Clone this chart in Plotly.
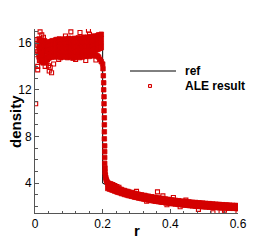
import plotly.graph_objects as go

# ---------------- data ----------------
ref_r = [0.0, 0.2, 0.2, 0.22, 0.25, 0.3, 0.35, 0.4, 0.45, 0.5, 0.55, 0.6]
ref_rho = [16.0, 16.0, 4.0, 3.727, 3.4, 3.0, 2.714, 2.5, 2.333, 2.2, 2.091, 2.0]

core_r = [0.012, 0.016, 0.020, 0.024, 0.028, 0.032, 0.036, 0.040, 0.044, 0.048,
          0.052, 0.056, 0.060, 0.064, 0.068, 0.072, 0.076, 0.080, 0.084, 0.088,
          0.092, 0.096, 0.100, 0.104, 0.108, 0.112, 0.116, 0.120, 0.124, 0.128,
          0.132, 0.136, 0.140, 0.144, 0.148, 0.152, 0.156, 0.160, 0.164, 0.168,
          0.172, 0.176, 0.180, 0.184, 0.188, 0.192, 0.196]
core_rho_1 = [16.35, 16.1, 16.25, 16.05, 16.2, 16.0, 16.1, 15.95, 16.05, 16.15,
              16.2, 16.1, 16.25, 16.3, 16.2, 16.35, 16.25, 16.3, 16.2, 16.35,
              16.3, 16.25, 16.4, 16.3, 16.35, 16.25, 16.4, 16.3, 16.35, 16.45,
              16.3, 16.4, 16.35, 16.5, 16.4, 16.45, 16.5, 16.4, 16.55, 16.5,
              16.45, 16.6, 16.55, 16.6, 16.7, 16.65, 16.75]
core_rho_2 = [15.85, 15.9, 15.7, 15.8, 15.75, 15.6, 15.7, 15.65, 15.75, 15.8,
              15.85, 15.9, 15.85, 15.95, 15.9, 16.0, 15.9, 15.95, 15.9, 16.0,
              15.95, 15.9, 16.0, 15.95, 16.05, 15.9, 16.0, 15.95, 16.05, 16.1,
              15.95, 16.05, 16.0, 16.1, 16.05, 16.1, 16.15, 16.05, 16.2, 16.15,
              16.1, 16.25, 16.2, 16.25, 16.3, 16.35, 16.4]
core_rho_3 = [15.5, 15.4, 15.3, 15.2, 15.3, 15.25, 15.35, 15.3, 15.4, 15.45,
              15.5, 15.55, 15.5, 15.6, 15.55, 15.6, 15.5, 15.6, 15.55, 15.65,
              15.6, 15.5, 15.6, 15.55, 15.65, 15.5, 15.6, 15.55, 15.65, 15.7,
              15.55, 15.65, 15.6, 15.7, 15.65, 15.7, 15.75, 15.65, 15.8, 15.75,
              15.7, 15.85, 15.8, 15.85, 15.9, 15.95, 16.0]
core_rho_4 = [15.1, 15.0, 14.9, 14.7, 14.8, 14.6, 14.8, 14.9, 15.0, 15.05,
              15.1, 15.15, 15.1, 15.2, 15.15, 15.2, 15.1, 15.2, 15.15, 15.25,
              15.2, 15.1, 15.2, 15.15, 15.25, 15.1, 15.2, 15.15, 15.25, 15.3,
              15.15, 15.25, 15.2, 15.3, 15.25, 15.3, 15.35, 15.25, 15.4, 15.35,
              15.3, 15.45, 15.4, 15.45, 15.5, 15.55, 15.6]
core_rho_5 = [14.8, 14.5, 14.4, 14.3, 14.5, 14.4, 14.6, 14.7, 14.75, 14.8,
              14.85, 14.9, 14.8, 14.95, 14.85, 14.9, 14.75, 14.85, 14.8, 14.9,
              14.85, 14.75, 14.85, 14.8, 14.9, 14.7, 14.8, 14.75, 14.85, 14.9,
              14.75, 14.85, 14.8, 14.9, 14.85, 14.9, 14.95, 14.85, 15.0, 14.95,
              14.9, 15.0, 14.95, 14.9, 14.8, 14.6, 14.4]

core_out_r = [0.002, 0.008, 0.008, 0.013, 0.015, 0.020, 0.006, 0.035, 0.040, 0.042,
              0.049, 0.037, 0.045, 0.030, 0.106, 0.133, 0.158, 0.161, 0.070, 0.120,
              0.150, 0.180, 0.090, 0.055, 0.025, 0.008, 0.008, 0.004]
core_out_rho = [10.8, 14.0, 13.7, 14.5, 16.95, 16.7, 16.3, 14.3, 14.05, 13.6,
                13.45, 14.6, 13.9, 14.0, 16.95, 16.9, 17.1, 16.75, 14.6, 14.6,
                14.5, 14.55, 16.6, 14.2, 16.5, 15.8, 15.3, 15.0]

drop_r = [0.200, 0.201, 0.202, 0.203, 0.203, 0.204, 0.204, 0.204, 0.205, 0.205,
          0.205, 0.205, 0.206, 0.206, 0.206, 0.206, 0.207, 0.207, 0.208, 0.209,
          0.210, 0.212, 0.215, 0.219, 0.224]
drop_rho = [14.2, 13.8, 13.2, 12.6, 12.0, 11.4, 10.8, 10.2, 9.6, 9.0,
            8.4, 7.8, 7.2, 6.7, 6.2, 5.7, 5.3, 4.95, 4.7, 4.5,
            4.35, 4.2, 4.05, 3.95, 3.9]

tail_r = [0.215, 0.22, 0.225, 0.23, 0.235, 0.24, 0.245, 0.25, 0.255, 0.26,
          0.265, 0.27, 0.275, 0.28, 0.285, 0.29, 0.295, 0.30, 0.305, 0.31,
          0.315, 0.32, 0.325, 0.33, 0.335, 0.34, 0.345, 0.35, 0.355, 0.36,
          0.365, 0.37, 0.375, 0.38, 0.385, 0.39, 0.395, 0.40, 0.405, 0.41,
          0.415, 0.42, 0.425, 0.43, 0.435, 0.44, 0.445, 0.45, 0.455, 0.46,
          0.465, 0.47, 0.475, 0.48, 0.485, 0.49, 0.495, 0.50, 0.505, 0.51,
          0.515, 0.52, 0.525, 0.53, 0.535, 0.54, 0.545, 0.55, 0.555, 0.56,
          0.565, 0.57, 0.575, 0.58, 0.585, 0.59, 0.595, 0.60]
tail_rho_hi = [3.92, 3.80, 3.78, 3.70, 3.66, 3.58, 3.55, 3.49, 3.47, 3.39,
               3.37, 3.30, 3.29, 3.22, 3.21, 3.14, 3.13, 3.08, 3.06, 3.01,
               3.00, 2.94, 2.95, 2.88, 2.89, 2.83, 2.84, 2.78, 2.79, 2.73,
               2.74, 2.68, 2.70, 2.64, 2.65, 2.60, 2.61, 2.56, 2.57, 2.52,
               2.53, 2.49, 2.50, 2.45, 2.46, 2.42, 2.43, 2.39, 2.40, 2.36,
               2.37, 2.33, 2.35, 2.31, 2.32, 2.28, 2.30, 2.26, 2.27, 2.23,
               2.25, 2.21, 2.22, 2.19, 2.20, 2.17, 2.18, 2.15, 2.16, 2.13,
               2.14, 2.11, 2.12, 2.09, 2.10, 2.08, 2.09, 2.06]
tail_rho_lo = [3.55, 3.50, 3.44, 3.40, 3.33, 3.28, 3.22, 3.19, 3.12, 3.10,
               3.03, 3.01, 2.95, 2.93, 2.88, 2.86, 2.80, 2.79, 2.74, 2.72,
               2.68, 2.66, 2.62, 2.61, 2.56, 2.55, 2.51, 2.50, 2.46, 2.45,
               2.42, 2.41, 2.37, 2.37, 2.33, 2.33, 2.29, 2.29, 2.25, 2.25,
               2.22, 2.22, 2.18, 2.18, 2.15, 2.15, 2.12, 2.12, 2.09, 2.09,
               2.06, 2.07, 2.03, 2.04, 2.01, 2.02, 1.99, 2.00, 1.97, 1.98,
               1.95, 1.96, 1.93, 1.95, 1.92, 1.93, 1.90, 1.92, 1.89, 1.90,
               1.87, 1.89, 1.86, 1.88, 1.85, 1.87, 1.84, 1.86]

tail_out_r = [0.212, 0.218, 0.224, 0.230, 0.236, 0.242, 0.248, 0.255, 0.262, 0.270,
              0.362, 0.378, 0.409, 0.446, 0.429, 0.483, 0.526, 0.550, 0.600, 0.560,
              0.300, 0.330, 0.390]
tail_out_rho = [4.15, 4.00, 3.95, 3.88, 3.80, 3.72, 3.65, 3.30, 3.25, 3.15,
                3.26, 2.92, 2.78, 2.55, 1.98, 1.76, 1.47, 1.56, 1.47, 1.70,
                3.30, 2.45, 2.15]

x_ticks = [0, 0.2, 0.4, 0.6]
x_tick_text = ["0", "0.2", "0.4", "0.6"]
y_ticks = [4, 8, 12, 16]

# ---------------- figure ----------------
RED = "#d40000"
FONT = "Liberation Sans, Arial, sans-serif"
dense_r = (core_r * 5) + drop_r + tail_r * 2
dense_rho = (core_rho_1 + core_rho_2 + core_rho_3 + core_rho_4 + core_rho_5
             + drop_rho + tail_rho_hi + tail_rho_lo)
sparse_r = core_out_r + tail_out_r
sparse_rho = core_out_rho + tail_out_rho

fig = go.Figure()
fig.add_trace(go.Scatter(x=ref_r, y=ref_rho, mode="lines", name="ref",
                         line=dict(color="black", width=1), showlegend=False))
# densely packed ALE points (overlap into a solid band)
fig.add_trace(go.Scatter(x=dense_r, y=dense_rho, mode="markers", name="ALE result",
                         marker=dict(symbol="square", size=4.5, color=RED,
                                     line=dict(width=0.8, color=RED)),
                         showlegend=False))
# isolated ALE points
fig.add_trace(go.Scatter(x=sparse_r, y=sparse_rho, mode="markers", name="ALE result",
                         marker=dict(symbol="square-open", size=4, color=RED,
                                     line=dict(width=1.1, color=RED)),
                         showlegend=False))

axis_common = dict(showgrid=False, zeroline=False, showline=True, automargin=False,
                   linecolor="#555555", linewidth=1, ticks="inside",
                   tickcolor="#555555", ticklen=4, mirror=False,
                   tickfont=dict(family=FONT, size=12, color="black"))

fig.update_xaxes(range=[0, 0.6], tickvals=x_ticks, ticktext=x_tick_text,
                 minor=dict(dtick=0.04, ticks="inside", ticklen=2.5, tickcolor="#555555"),
                 **axis_common)
fig.update_yaxes(range=[1.45, 17.2], tickvals=y_ticks,
                 minor=dict(dtick=1, tick0=0, ticks="inside", ticklen=2.5, tickcolor="#555555"),
                 **axis_common)

PW, PH = 203, 184
# axis titles
fig.add_annotation(xref="paper", yref="paper", x=(137 - 35) / PW, y=(213 - 230) / PH,
                   text="<b>r</b>", showarrow=False, xanchor="center", yanchor="middle",
                   font=dict(family=FONT, size=15, color="black"))
fig.add_annotation(xref="paper", yref="paper", x=(15 - 35) / PW, y=(213 - 122) / PH,
                   text="<b>density</b>", showarrow=False, textangle=-90,
                   xanchor="center", yanchor="middle",
                   font=dict(family=FONT, size=15, color="black"))

# manual legend (Tecplot style)
fig.add_shape(type="line", xref="paper", yref="paper",
              x0=(130 - 35) / PW, x1=(176 - 35) / PW,
              y0=(213 - 71) / PH, y1=(213 - 71) / PH,
              line=dict(color="black", width=1))
fig.add_shape(type="rect", xref="paper", yref="paper",
              x0=(148.5 - 35) / PW, x1=(151.5 - 35) / PW,
              y0=(213 - 87.5) / PH, y1=(213 - 84.5) / PH,
              line=dict(color=RED, width=1), fillcolor="#ffcccc")
fig.add_annotation(xref="paper", yref="paper", x=(183 - 35) / PW, y=(213 - 71) / PH,
                   text="<b>ref</b>", showarrow=False, xanchor="left", yanchor="middle",
                   font=dict(family=FONT, size=12, color="black"))
fig.add_annotation(xref="paper", yref="paper", x=(183 - 35) / PW, y=(213 - 86) / PH,
                   text="<b>ALE result</b>", showarrow=False, xanchor="left", yanchor="middle",
                   font=dict(family=FONT, size=12, color="black"))

fig.update_layout(width=273, height=242,
                  margin=dict(l=35, r=35, t=29, b=29),
                  paper_bgcolor="white", plot_bgcolor="white",
                  showlegend=False)

fig.write_html("out.html", config={"displayModeBar": False},
               post_script="document.body.style.margin='0';document.body.style.overflow='hidden';")
